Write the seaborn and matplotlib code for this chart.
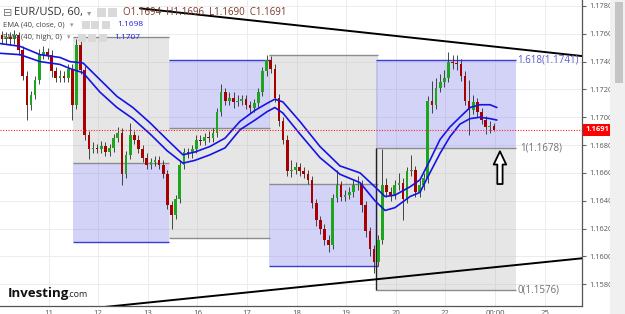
import numpy as np
import matplotlib
matplotlib.use("Agg")
import matplotlib.pyplot as plt
import matplotlib.transforms as mtransforms
from matplotlib.patches import Rectangle
import seaborn as sns

# ---------------- data (EUR/USD, 2-hour bars) ----------------
first_open = 1.1759
closes = [1.1756, 1.1758, 1.1756, 1.1759, 1.1748, 1.1730, 1.1709, 1.1716, 1.1727, 1.1745,
          1.1747, 1.1745, 1.1733, 1.1728, 1.1730, 1.1728, 1.1735, 1.1709, 1.1752, 1.1734,
          1.1687, 1.1677, 1.1678, 1.1677, 1.1679, 1.1675, 1.1678, 1.1685, 1.1689, 1.1659,
          1.1673, 1.1687, 1.1684, 1.1677, 1.1671, 1.1666, 1.1668, 1.1669, 1.1666, 1.1659,
          1.1637, 1.1630, 1.1641, 1.1666, 1.1675, 1.1674, 1.1677, 1.1684, 1.1683, 1.1686,
          1.1685, 1.1689, 1.1704, 1.1718, 1.1712, 1.1714, 1.1711, 1.1712, 1.1713, 1.1709,
          1.1707, 1.1710, 1.1718, 1.1733, 1.1741, 1.1735, 1.1714, 1.1697, 1.1684, 1.1661,
          1.1662, 1.1664, 1.1661, 1.1659, 1.1655, 1.1638, 1.1626, 1.1620, 1.1612, 1.1608,
          1.1642, 1.1651, 1.1643, 1.1644, 1.1646, 1.1651, 1.1652, 1.1637, 1.1618, 1.1605,
          1.1596, 1.1612, 1.1651, 1.1646, 1.1644, 1.1651, 1.1653, 1.1641, 1.1661, 1.1662,
          1.1646, 1.1651, 1.1656, 1.1712, 1.1709, 1.1721, 1.1725, 1.1728, 1.1740, 1.1739,
          1.1738, 1.1730, 1.1712, 1.1705, 1.1711, 1.1704, 1.1698, 1.1693, 1.1694, 1.1691]
highs = [1.1762, 1.1761, 1.1761, 1.1763, 1.1761, 1.1751, 1.1733, 1.1719, 1.1730, 1.1749,
         1.1751, 1.1750, 1.1748, 1.1736, 1.1734, 1.1733, 1.1738, 1.1738, 1.1756, 1.1755,
         1.1737, 1.1690, 1.1682, 1.1681, 1.1683, 1.1682, 1.1681, 1.1688, 1.1693, 1.1692,
         1.1676, 1.1696, 1.1690, 1.1687, 1.1680, 1.1674, 1.1671, 1.1672, 1.1672, 1.1669,
         1.1662, 1.1640, 1.1644, 1.1669, 1.1678, 1.1678, 1.1680, 1.1687, 1.1687, 1.1689,
         1.1690, 1.1692, 1.1707, 1.1724, 1.1721, 1.1718, 1.1718, 1.1716, 1.1716, 1.1716,
         1.1712, 1.1713, 1.1721, 1.1736, 1.1745, 1.1744, 1.1738, 1.1717, 1.1700, 1.1687,
         1.1669, 1.1668, 1.1667, 1.1664, 1.1662, 1.1658, 1.1641, 1.1629, 1.1623, 1.1615,
         1.1645, 1.1662, 1.1654, 1.1648, 1.1650, 1.1655, 1.1658, 1.1655, 1.1640, 1.1621,
         1.1608, 1.1615, 1.1677, 1.1656, 1.1650, 1.1655, 1.1660, 1.1656, 1.1664, 1.1673,
         1.1665, 1.1655, 1.1660, 1.1715, 1.1726, 1.1728, 1.1731, 1.1734, 1.1747, 1.1745,
         1.1745, 1.1742, 1.1733, 1.1727, 1.1716, 1.1714, 1.1707, 1.1701, 1.1697, 1.1696]
lows = [1.1753, 1.1753, 1.1752, 1.1753, 1.1745, 1.1727, 1.1698, 1.1705, 1.1713, 1.1724,
        1.1742, 1.1742, 1.1729, 1.1725, 1.1725, 1.1725, 1.1725, 1.1698, 1.1706, 1.1731,
        1.1684, 1.1670, 1.1674, 1.1674, 1.1674, 1.1672, 1.1672, 1.1675, 1.1682, 1.1651,
        1.1656, 1.1670, 1.1681, 1.1674, 1.1668, 1.1663, 1.1663, 1.1665, 1.1663, 1.1656,
        1.1634, 1.1620, 1.1627, 1.1638, 1.1663, 1.1671, 1.1671, 1.1674, 1.1680, 1.1680,
        1.1682, 1.1682, 1.1686, 1.1701, 1.1709, 1.1709, 1.1707, 1.1708, 1.1709, 1.1706,
        1.1703, 1.1704, 1.1707, 1.1715, 1.1730, 1.1732, 1.1711, 1.1694, 1.1681, 1.1658,
        1.1657, 1.1659, 1.1658, 1.1656, 1.1652, 1.1635, 1.1622, 1.1616, 1.1608, 1.1603,
        1.1605, 1.1639, 1.1640, 1.1640, 1.1641, 1.1643, 1.1648, 1.1632, 1.1614, 1.1600,
        1.1588, 1.1593, 1.1609, 1.1643, 1.1640, 1.1641, 1.1648, 1.1626, 1.1638, 1.1658,
        1.1643, 1.1643, 1.1648, 1.1653, 1.1703, 1.1706, 1.1718, 1.1722, 1.1725, 1.1735,
        1.1734, 1.1726, 1.1709, 1.1687, 1.1702, 1.1700, 1.1695, 1.1688, 1.1689, 1.1690]

# EMA(40) lines (hours from chart start)
ema_hours = [0, 9.7, 19.4, 29.0, 33.9, 40.2, 48.4, 56.6, 64.3, 72.6, 80.8, 88.5, 94.3,
             101.6, 108.9, 116.1, 123.4, 129.2, 133.0, 136.9, 145.1, 154.8, 164.5, 174.2,
             181.4, 186.3, 191.1, 198.4, 203.2, 208.0, 212.9, 217.7, 222.5, 227.4, 232.2,
             237.1, 240.4]
ema_high = [1.1753, 1.1751, 1.1745, 1.1743, 1.1740, 1.1739, 1.1727, 1.1715, 1.1707, 1.1696,
            1.1684, 1.1673, 1.1675, 1.1679, 1.1685, 1.1697, 1.1705, 1.1710, 1.1713, 1.1711,
            1.1697, 1.1679, 1.1665, 1.1660, 1.1650, 1.1643, 1.1644, 1.1650, 1.1655, 1.1669,
            1.1684, 1.1693, 1.1700, 1.1707, 1.1709, 1.1709, 1.1707]
ema_close = [1.1746, 1.1745, 1.1740, 1.1738, 1.1735, 1.1732, 1.1718, 1.1707, 1.1699, 1.1688,
             1.1676, 1.1667, 1.1669, 1.1673, 1.1678, 1.1691, 1.1698, 1.1704, 1.1707, 1.1703,
             1.1688, 1.1671, 1.1659, 1.1653, 1.1640, 1.1633, 1.1635, 1.1643, 1.1646, 1.1660,
             1.1674, 1.1686, 1.1695, 1.1699, 1.1700, 1.1699, 1.1698]

last_price = 1.1691
y_ticks = [1.1580, 1.1600, 1.1620, 1.1640, 1.1660, 1.1680, 1.1700, 1.1720, 1.1740, 1.1760, 1.1780]
x_tick_hours = [23.5, 47.5, 71.5, 95.5, 119.5, 143.5, 167.5, 191.5, 215.5, 239.5, 263.5]
x_tick_labels = ["11", "12", "13", "16", "17", "18", "19", "20", "22", "00:00", "25"]

# Fibonacci drawings: start/end hour, level 0, level 1, level 1.618
fib_start = [35.3, 81.8, 130.1, 181.9]
fib_end = [81.8, 130.6, 182.9, 249.6]
fib_zero = [1.1758, 1.1613, 1.1745, 1.1576]
fib_one = [1.1667, 1.1692, 1.1652, 1.1678]
fib_ext = [1.1610, 1.1741, 1.1593, 1.1741]

# trend lines (anchor points)
upper_line_x = [67.7, 281.6]
upper_line_y = [1.17783, 1.17440]
lower_line_x = [50.0, 281.6]
lower_line_y = [1.15635, 1.15986]

# arrow annotation
arrow_x = 241.9
arrow_tail = 1.16520
arrow_head = 1.16755

# ---------------- style ----------------
sns.set_theme(style="white")
plt.rcParams["font.family"] = ["Open Sans", "DejaVu Sans"]

W, H = 625, 314
fig = plt.figure(figsize=(W / 100, H / 100), dpi=100)
ax = fig.add_axes([0, 8 / H, 582 / W, 306 / H])

ax.set_xlim(0, 281.6)
ax.set_ylim(1.15643, 1.17843)

# grid
for xt in x_tick_hours:
    ax.axvline(xt, color="#ececec", lw=0.7, zorder=0.2)
for yt in y_ticks:
    ax.axhline(yt, color="#ececec", lw=0.7, zorder=0.2)

# fib boxes
for s, e, z, o, x in zip(fib_start, fib_end, fib_zero, fib_one, fib_ext):
    ax.add_patch(Rectangle((s, min(z, o)), e - s, abs(o - z), fc="#b4b4b4", ec="none",
                           alpha=0.33, zorder=0.5))
    ax.add_patch(Rectangle((s, min(o, x)), e - s, abs(x - o), fc="#8585ec", ec="none",
                           alpha=0.36, zorder=0.5))
    ax.hlines([z, o], s, e, color="#8c8c8c", lw=1.0, zorder=0.6)
    ax.hlines([x], s, e, color="#3c3cd2", lw=1.0, zorder=0.6)

# anchor line of last fib
ax.vlines(fib_start[3], fib_zero[3], fib_one[3], color="#222222", lw=1.0, zorder=0.7)

# labels of last fib
lbl_kw = dict(fontsize=7, va="center", ha="left", zorder=5)
ax.text(fib_end[3] + 0.6, fib_ext[3], f"1.618({fib_ext[3]:.4f})", color="#5a5ad0", **lbl_kw)
ax.text(fib_end[3] + 2.0, fib_one[3], f"1({fib_one[3]:.4f})", color="#707070", **lbl_kw)
ax.text(fib_end[3] + 0.6, fib_zero[3], f"0({fib_zero[3]:.4f})", color="#707070", **lbl_kw)

# candles
closes_a = np.array(closes)
opens_a = np.r_[first_open, closes_a[:-1]]
bar_x = np.arange(len(closes_a)) * 2 + 1
up = closes_a >= opens_a
body_col = np.where(up, "#1ea51e", "#a80000")
ax.vlines(bar_x, lows, highs, color="#2a2a2a", lw=0.6, zorder=2)
heights = np.where(np.abs(closes_a - opens_a) < 0.00004, 0.00004, closes_a - opens_a)
ax.bar(bar_x, heights, bottom=opens_a, width=1.3, color=body_col, linewidth=0, zorder=3)

# EMA lines
sns.lineplot(x=ema_hours, y=ema_high, color="#1414e6", lw=1.2, ax=ax, zorder=4)
sns.lineplot(x=ema_hours, y=ema_close, color="#1414e6", lw=1.2, ax=ax, zorder=4)

# trend lines
ax.plot(upper_line_x, upper_line_y, color="black", lw=1.4, zorder=4.5)
ax.plot(lower_line_x, lower_line_y, color="black", lw=1.4, zorder=4.5)

# last price dotted line
ax.axhline(last_price, color="#ff2020", lw=0.8, ls=(0, (1, 1.4)), zorder=4.6)

# arrow
ax.annotate("", xy=(arrow_x, arrow_head), xytext=(arrow_x, arrow_tail),
            arrowprops=dict(arrowstyle="simple,head_length=0.95,head_width=0.9,tail_width=0.38",
                            fc="white", ec="black", lw=1.3, mutation_scale=10,
                            shrinkA=0, shrinkB=0), zorder=5)

# axes / ticks
ax.yaxis.tick_right()
ax.set_yticks(y_ticks)
ax.set_yticklabels([f"{v:.4f}" for v in y_ticks])
ax.set_xticks(x_tick_hours)
ax.set_xticklabels(x_tick_labels)
ax.tick_params(axis="y", right=True, length=3, width=0.8, color="#666666", pad=2,
               labelsize=5.4, labelcolor="#555555")
ax.tick_params(axis="x", bottom=False, length=0, pad=3, labelsize=5.6, labelcolor="#555555")
for side in ["left", "top"]:
    ax.spines[side].set_visible(False)
for side in ["right", "bottom"]:
    ax.spines[side].set_color("#555555")
    ax.spines[side].set_linewidth(0.9)
ax.set_xlabel("")
ax.set_ylabel("")

# last price tag
trans = mtransforms.blended_transform_factory(ax.transAxes, ax.transData)
ax.text(1.006, last_price, f"{last_price:.4f}", transform=trans, color="white",
        fontsize=5.4, fontweight="bold", va="center", ha="left", clip_on=False, zorder=10,
        bbox=dict(boxstyle="square,pad=0.3", fc="#ff0000", ec="none"))

# scrollbar
fig.patches.append(Rectangle((610 / W, 0), 15 / W, 1, transform=fig.transFigure,
                             fc="#f0f0f0", ec="none", zorder=0))
fig.patches.append(Rectangle((615 / W, 1 - 83 / H), 8 / W, 81 / H, transform=fig.transFigure,
                             fc="#c4c4c4", ec="none", zorder=1))


def fx(px):
    return px / W


def fy(py):
    return 1 - py / H


# header
fig.text(fx(3), fy(12.5), "⊟", fontsize=8, color="#777777", va="center", family="DejaVu Sans")
fig.text(fx(14), fy(12.5), "EUR/USD, 60,", fontsize=8, color="#333333", va="center")
fig.text(fx(87), fy(12.5), "▾", fontsize=6, color="#999999", va="center", family="DejaVu Sans")
fig.text(fx(123), fy(12.5), "O1.1694  H1.1696  L1.1690  C1.1691", fontsize=7,
         color="#7a3a2c", va="center")
fig.text(fx(3), fy(25), "EMA (40, close, 0)", fontsize=5.5, color="#444444", va="center")
fig.text(fx(70), fy(25), "▾", fontsize=5, color="#999999", va="center", family="DejaVu Sans")
fig.text(fx(117), fy(25), "1.1698", fontsize=6, color="#2222dd", va="center")
fig.text(fx(3), fy(37.5), "EMA (40, high, 0)", fontsize=5.5, color="#444444", va="center")
fig.text(fx(67), fy(37.5), "▾", fontsize=5, color="#999999", va="center", family="DejaVu Sans")
fig.text(fx(114), fy(37.5), "1.1707", fontsize=6, color="#2222dd", va="center")

icon_rows = [(8, 9, [97, 108]), (21.5, 7.5, [82, 91, 102]), (34, 7.5, [78, 88, 99])]
for top, size, xs in icon_rows:
    for x0 in xs:
        fig.patches.append(Rectangle((fx(x0), fy(top + size)), size / W, size / H,
                                     transform=fig.transFigure, fc="#d9d9d9", ec="none",
                                     zorder=2))

# logo
fig.text(fx(8), fy(297), "Investing", fontsize=9.5, fontweight="bold", color="#111111",
         va="baseline")
fig.text(fx(67.5), fy(297), ".com", fontsize=6.5, color="#222222", va="baseline")

fig.savefig("out.png", dpi=100)
